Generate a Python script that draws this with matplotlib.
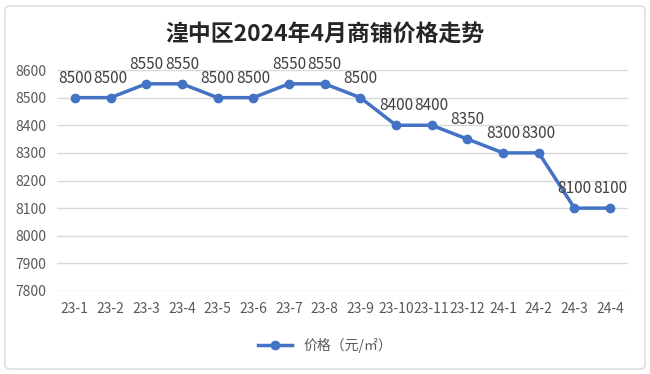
import matplotlib
matplotlib.use("Agg")
import matplotlib.pyplot as plt
from matplotlib.patches import FancyBboxPatch

plt.rcParams['font.family'] = ['Noto Sans CJK SC', 'DejaVu Sans']

months = ["23-1", "23-2", "23-3", "23-4", "23-5", "23-6", "23-7", "23-8",
          "23-9", "23-10", "23-11", "23-12", "24-1", "24-2", "24-3", "24-4"]
prices = [8500, 8500, 8550, 8550, 8500, 8500, 8550, 8550,
          8500, 8400, 8400, 8350, 8300, 8300, 8100, 8100]
y_ticks = [7800, 7900, 8000, 8100, 8200, 8300, 8400, 8500, 8600]

LINE_COLOR = "#4472C4"
TEXT_COLOR = "#595959"

fig = plt.figure(figsize=(6.5, 3.74), dpi=100)
ax = fig.add_axes([57 / 650, 1 - 291 / 374, 571 / 650, 221 / 374])

# chart border
fig.patches.append(FancyBboxPatch((5 / 650, 5 / 374), 640 / 650, 363 / 374,
                                  boxstyle="round,pad=0,rounding_size=0.01",
                                  transform=fig.transFigure, fill=False,
                                  edgecolor="#D9D9D9", linewidth=1))

x = list(range(len(months)))
ax.plot(x, prices, color=LINE_COLOR, linewidth=2.5, marker="o", markersize=6,
        label="价格（元/㎡）")
for xi, p in zip(x, prices):
    ax.annotate(str(p), (xi, p), xytext=(0, 8), textcoords="offset points",
                ha="center", va="bottom", fontsize=11, color="#404040")

ax.set_xlim(-0.5, len(months) - 0.5)
ax.set_ylim(7800, 8600)
ax.set_yticks(y_ticks)
ax.set_xticks(x)
ax.set_xticklabels(months)
ax.tick_params(axis="both", length=0, labelsize=10, colors=TEXT_COLOR)
ax.tick_params(axis="y", pad=8)
ax.tick_params(axis="x", pad=8)
ax.grid(axis="y", color="#D9D9D9", linewidth=1)
ax.set_axisbelow(True)
for s in ax.spines.values():
    s.set_visible(False)

fig.text(0.5, 1 - 35 / 374, "湟中区2024年4月商铺价格走势", ha="center", va="center",
         fontsize=16.5, fontweight="bold", color="#262626")

fig.legend(loc="center", bbox_to_anchor=(0.5, 1 - 345 / 374), frameon=False,
           fontsize=10, labelcolor=TEXT_COLOR, handlelength=2.5)

fig.savefig("out.png", dpi=100)
